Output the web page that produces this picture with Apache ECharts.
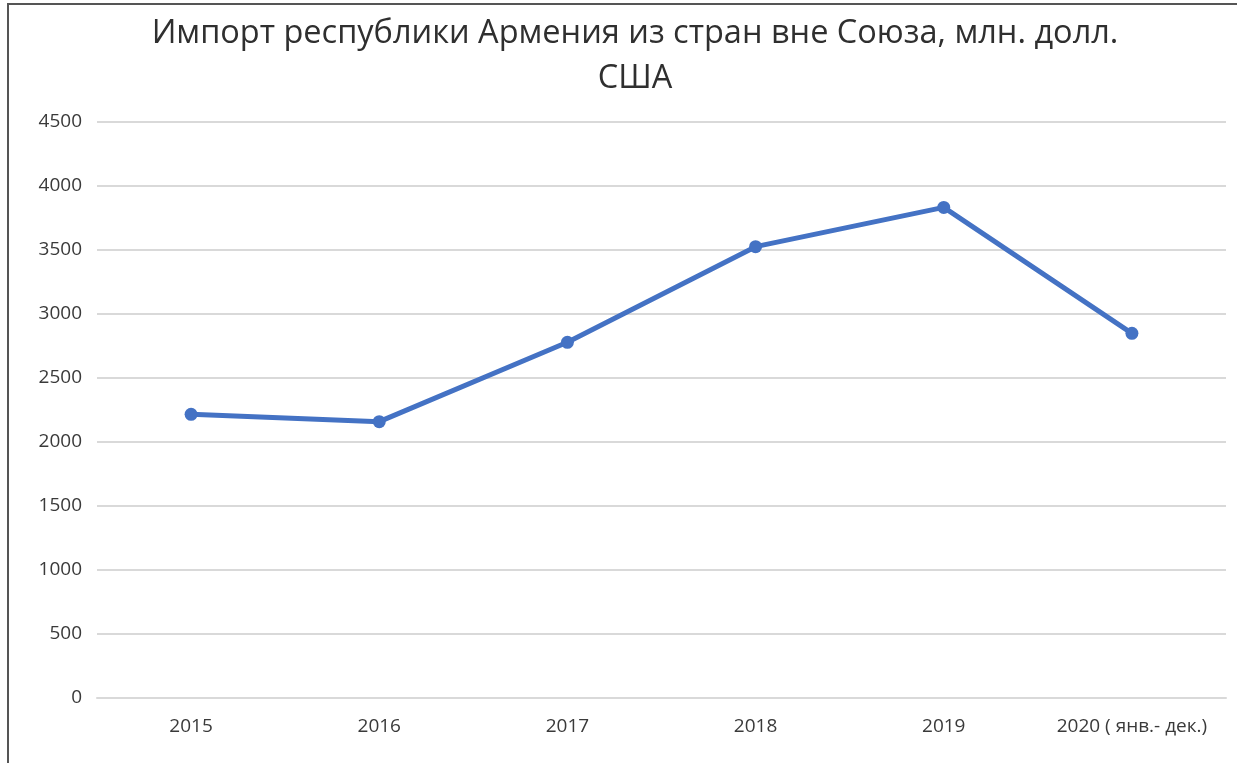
<!DOCTYPE html>
<html>
<head>
<meta charset="utf-8">
<script src="https://cdn.jsdelivr.net/npm/echarts@6/dist/echarts.min.js"></script>
<style>
  html, body { margin: 0; padding: 0; background: #fff; }
  #frame { position: absolute; left: 7px; top: 3px; width: 1230px; height: 760px; border-left: 2px solid #555; border-top: 2px solid #555; box-sizing: border-box; }
  #chart { position: absolute; left: 0; top: 0; width: 1237px; height: 763px; }
</style>
</head>
<body>
<div id="frame"></div>
<div id="chart"></div>
<script>
const titleText = 'Импорт республики Армения из стран вне Союза, млн. долл.\nСША';
const categories = ['2015', '2016', '2017', '2018', '2019', '2020 ( янв.- дек.)'];
const importValues = [2216, 2159, 2779, 3526, 3833, 2849];
const yMin = 0, yMax = 4500, yStep = 500;

const chart = echarts.init(document.getElementById('chart'), null, { renderer: 'canvas' });
chart.setOption({
  backgroundColor: 'transparent',
  animation: false,
  title: {
    text: titleText,
    left: 630,
    top: 6,
    textAlign: 'center',
    textStyle: { fontFamily: 'Open Sans', fontSize: 32.5, fontWeight: 'normal', color: '#2f2f2f', lineHeight: 45 }
  },
  grid: { left: 97, right: 11, top: 122, bottom: 65, containLabel: false },
  xAxis: {
    type: 'category',
    data: categories,
    boundaryGap: true,
    axisLine: { show: true, lineStyle: { color: '#d9d9d9', width: 2 } },
    axisTick: { show: false },
    axisLabel: { interval: 0, hideOverlap: false, fontFamily: 'Open Sans', fontSize: 19, color: '#3a3a3a', margin: 19 }
  },
  yAxis: {
    type: 'value',
    min: yMin, max: yMax, interval: yStep,
    axisLine: { show: false },
    axisTick: { show: false },
    splitLine: { lineStyle: { color: '#d9d9d9', width: 2 } },
    axisLabel: { fontFamily: 'Open Sans', fontSize: 19, color: '#3a3a3a', margin: 15, formatter: function (v) { return String(v); } }
  },
  series: [{
    type: 'line',
    data: importValues,
    symbol: 'circle',
    symbolSize: 13,
    lineStyle: { color: '#4472C4', width: 5 },
    itemStyle: { color: '#4472C4' }
  }]
});
</script>
</body>
</html>
